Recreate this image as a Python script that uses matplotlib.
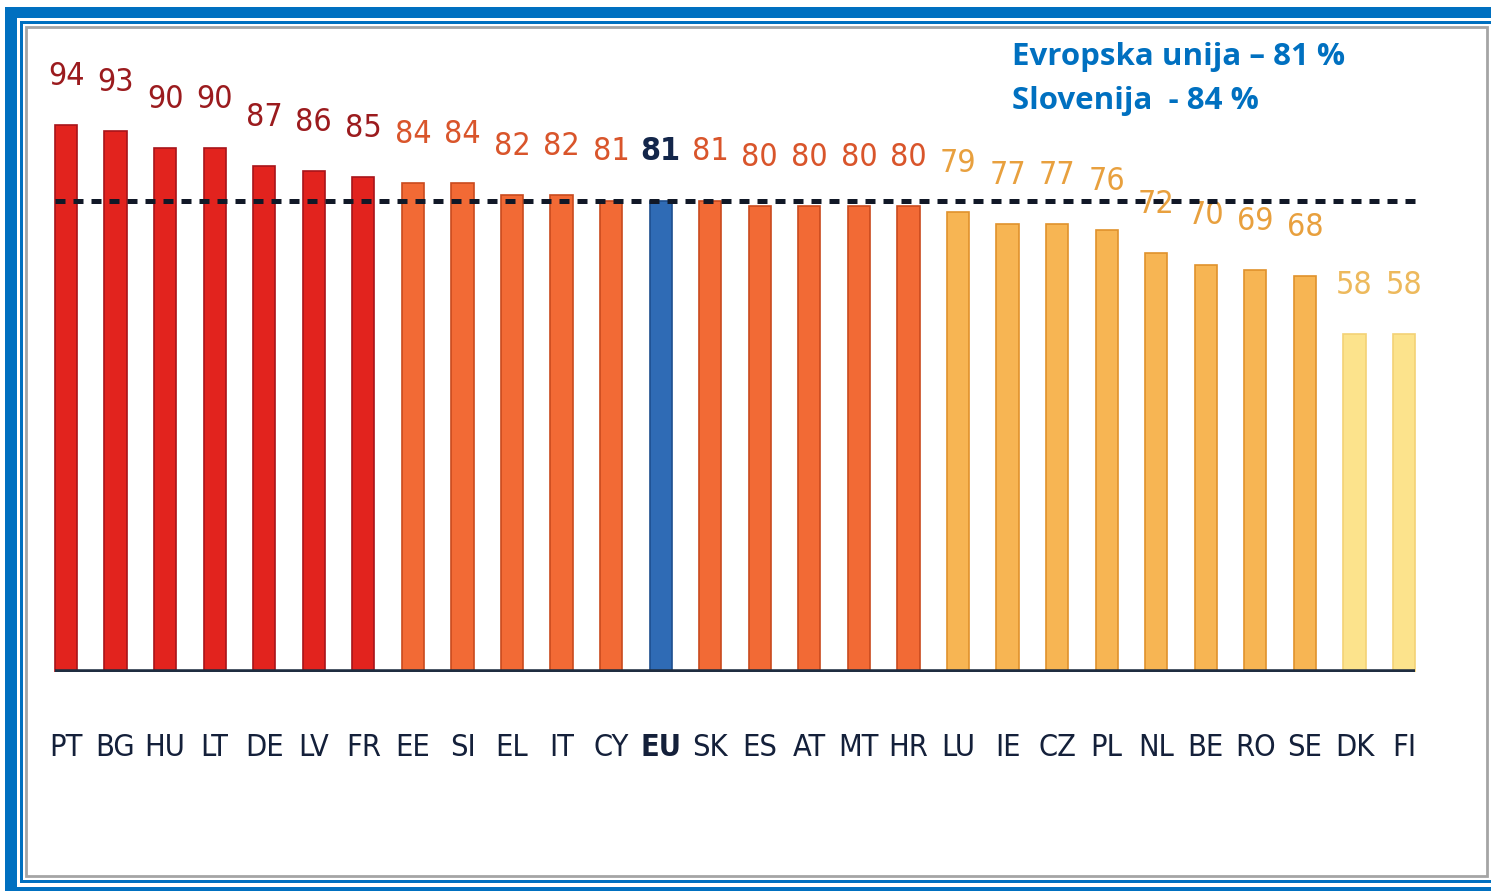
import matplotlib
matplotlib.use('Agg')
import matplotlib.pyplot as plt
from matplotlib.patches import Rectangle

# data
countries = ['PT', 'BG', 'HU', 'LT', 'DE', 'LV', 'FR', 'EE', 'SI', 'EL', 'IT', 'CY', 'EU', 'SK',
             'ES', 'AT', 'MT', 'HR', 'LU', 'IE', 'CZ', 'PL', 'NL', 'BE', 'RO', 'SE', 'DK', 'FI']
values = [94, 93, 90, 90, 87, 86, 85, 84, 84, 82, 82, 81, 81, 81,
          80, 80, 80, 80, 79, 77, 77, 76, 72, 70, 69, 68, 58, 58]
eu_average = 81
note_lines = ['Evropska unija – 81 %', 'Slovenija  - 84 %']

W, H = 1491, 891


def bar_style(country, value):
    """Returns (fill, edge, label colour) for one bar."""
    if country == 'EU':
        return '#2F6BB5', '#1E4F8F', '#13264A'
    if value >= 85:
        return '#E2231E', '#A8141A', '#9B1B1E'
    if value >= 80:
        return '#F26A35', '#C94A1E', '#D9552B'
    if value >= 65:
        return '#F7B553', '#E0922C', '#E8A03E'
    return '#FCE38C', '#F3D276', '#EDB95C'


def px_rect(x0, y0, x1, y1, **kw):
    return Rectangle((x0 / W, 1 - y1 / H), (x1 - x0) / W, (y1 - y0) / H,
                     transform=fig.transFigure, zorder=-5, **kw)


fig = plt.figure(figsize=(W / 100, H / 100), dpi=100)
fig.patch.set_facecolor('white')

# frame around the slide
fig.patches.append(px_rect(5, 7, 1600, 1000, facecolor='#0070C0', edgecolor='none'))
fig.patches.append(px_rect(17, 18, 1600, 887, facecolor='white', edgecolor='none'))
fig.patches.append(px_rect(20, 21, 1600, 883, facecolor='#0070C0', edgecolor='none'))
fig.patches.append(px_rect(23, 24, 1600, 880, facecolor='white', edgecolor='none'))
fig.patches.append(px_rect(26, 27, 1487, 876, facecolor='white', edgecolor='#A5A5A5', linewidth=2))

# axes placed so that bar centres land where they sit in the picture
step = (1404 - 66) / 27
left_px = 66 - 0.5 * step
right_px = 1404 + 0.5 * step
unit = 5.82
top_px = 40
ax = fig.add_axes([left_px / W, 1 - 672 / H, (right_px - left_px) / W, (672 - top_px) / H])
ax.set_facecolor('none')
ax.set_xlim(-0.5, 27.5)
ax.set_ylim(0, (672 - top_px) / unit)
for s in ax.spines.values():
    s.set_visible(False)
ax.set_yticks([])

x = list(range(len(countries)))
for xi, c, v in zip(x, countries, values):
    face, edge, lab = bar_style(c, v)
    ax.bar(xi, v, width=0.45, color=face, edgecolor=edge, linewidth=1.2, zorder=2)
    ax.annotate(str(v), (xi, v), xytext=(0, 35), textcoords='offset points',
                ha='center', va='center', fontsize=23, color=lab,
                family='DejaVu Sans', stretch='condensed',
                fontweight='bold' if c == 'EU' else 'normal')

ax.plot([-0.22, 27.22], [0, 0], color='#1F2D40', linewidth=4, solid_capstyle='butt', zorder=3)
ax.plot([-0.22, 27.32], [eu_average, eu_average], color='#111827', linewidth=3.6,
        linestyle=(0, (2.0, 1.6)), zorder=4)

ax.set_xticks(x)
ax.set_xticklabels(countries, fontsize=22, color='#14203A', family='DejaVu Sans',
                   stretch='condensed')
ax.tick_params(axis='x', length=0, pad=44)
ax.get_xticklabels()[countries.index('EU')].set_fontweight('bold')

fig.text(1012 / W, 1 - 57 / H, note_lines[0], fontsize=22.5, fontweight='bold',
         color='#0070C0', family=['Open Sans', 'DejaVu Sans'], va='center', ha='left')
fig.text(1012 / W, 1 - 101 / H, note_lines[1], fontsize=22.5, fontweight='bold',
         color='#0070C0', family=['Open Sans', 'DejaVu Sans'], va='center', ha='left')

fig.savefig('out.png', dpi=100)
